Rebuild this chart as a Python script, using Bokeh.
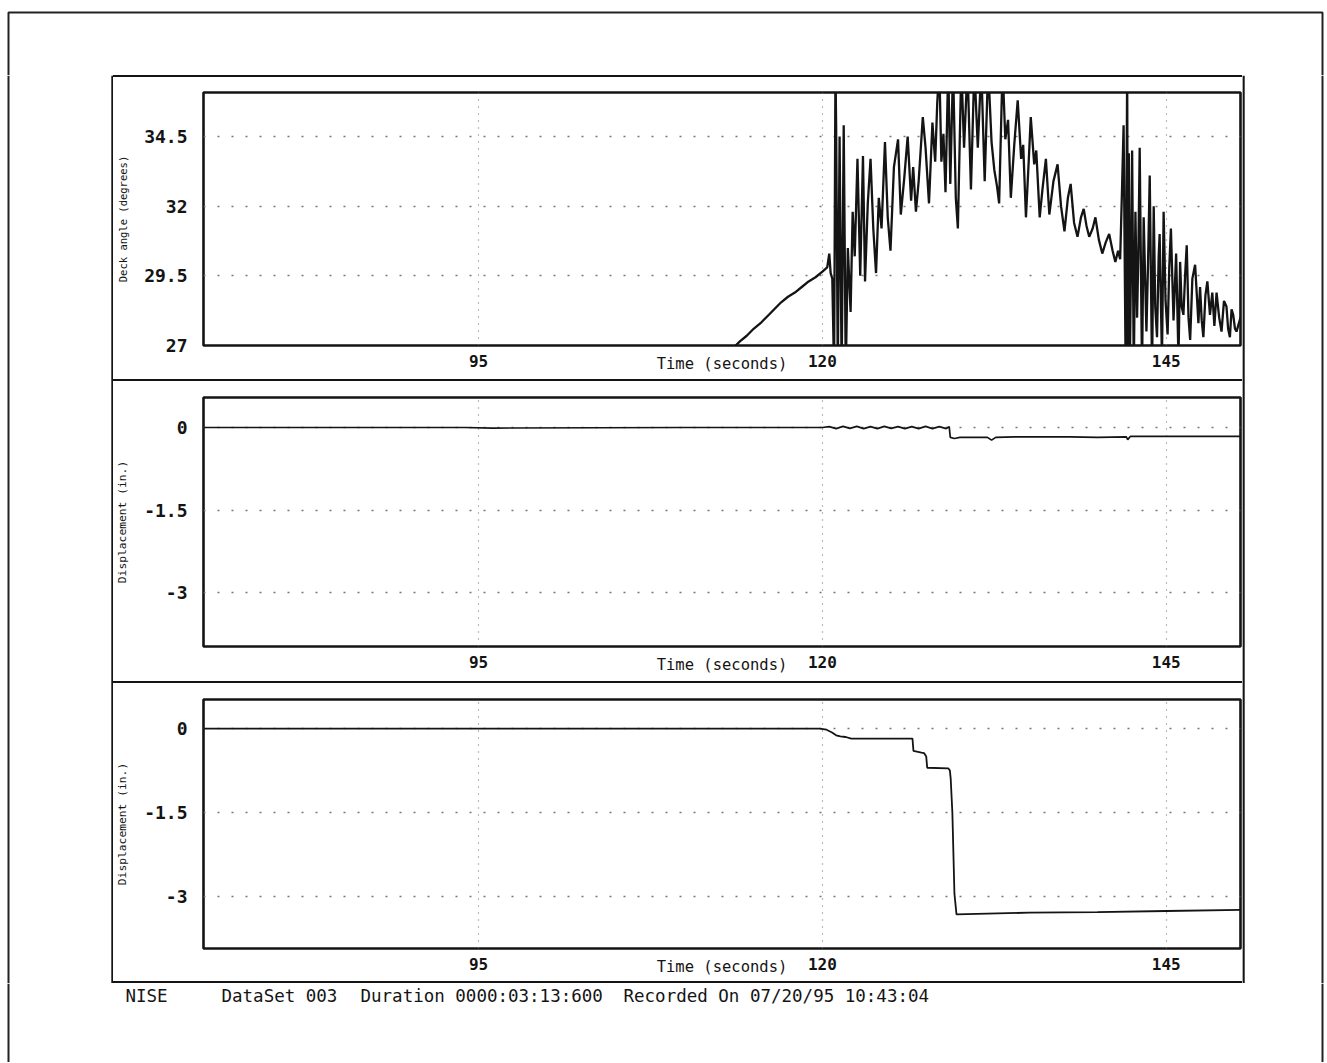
from bokeh.plotting import figure
from bokeh.models import Range1d, FixedTicker, Label, BoxAnnotation, Span, Div
from bokeh.layouts import column, row
from bokeh.embed import file_html
from bokeh.resources import INLINE

# ---------------- data ----------------
x_ticks = [95, 120, 145]
x_tick_labels = ["95", "120", "145"]
deck_ticks = [27, 29.5, 32, 34.5]
deck_tick_labels = ["27", "29.5", "32", "34.5"]
disp_ticks = [-3, -1.5, 0]
disp_tick_labels = ["-3", "-1.5", "0"]

deck_time = [
    113.5, 114.0, 114.5, 115.0, 115.5, 116.0, 116.5, 117.0, 117.5, 118.0, 118.5, 119.0, 119.5, 120.0,
    120.35, 120.5, 120.6, 120.72, 120.85, 120.95, 121.0, 121.12, 121.25, 121.4, 121.55, 121.7, 121.85,
    122.05, 122.2, 122.35, 122.55, 122.75, 122.95, 123.1, 123.3, 123.5, 123.7, 123.9, 124.1, 124.3,
    124.55, 124.75, 124.95, 125.2, 125.5, 125.7, 125.95, 126.2, 126.45, 126.6, 126.8, 127.0, 127.3,
    127.5, 127.75, 128.0, 128.2, 128.35, 128.5, 128.65, 128.8, 128.95, 129.15, 129.3, 129.5, 129.7,
    129.85, 130.1, 130.3, 130.55, 130.8, 131.05, 131.3, 131.55, 131.8, 132.05, 132.3, 132.5, 132.7,
    132.85, 133.1, 133.3, 133.5, 133.7, 133.95, 134.2, 134.45, 134.6, 134.8, 135.0, 135.15, 135.4,
    135.55, 135.8, 136.0, 136.25, 136.5, 136.8, 137.1, 137.35, 137.6, 137.85, 138.05, 138.3, 138.55,
    138.8, 139.0, 139.2, 139.4, 139.65, 139.85, 140.1, 140.35, 140.6, 140.85, 141.1, 141.3, 141.5,
    141.65, 141.78, 141.9, 142.05, 142.16, 142.22, 142.28, 142.35, 142.45, 142.52, 142.64, 142.76,
    142.88, 142.97, 143.07, 143.24, 143.36, 143.56, 143.68, 143.8, 143.97, 144.09, 144.2, 144.33,
    144.45, 144.52, 144.69, 144.81, 144.95, 145.1, 145.22, 145.34, 145.53, 145.72, 145.89, 146.01,
    146.12, 146.25, 146.38, 146.49, 146.62, 146.74, 146.9, 147.1, 147.34, 147.46, 147.58, 147.7,
    147.85, 147.99, 148.18, 148.35, 148.5, 148.66, 148.85, 149.02, 149.2, 149.38, 149.5, 149.63,
    149.75, 149.87, 150.0, 150.11, 150.4,
]
deck_angle = [
    26.9, 27.15, 27.35, 27.6, 27.8, 28.05, 28.3, 28.55, 28.75, 28.9, 29.1, 29.3, 29.45, 29.65,
    29.8, 30.3, 29.6, 29.4, 26.0, 37.0, 34.8, 26.0, 34.5, 26.0, 34.9, 26.0, 30.5,
    28.2, 31.8, 30.2, 33.7, 29.5, 33.8, 29.3, 32.1, 33.7, 31.2, 29.6, 32.3, 31.2,
    34.3, 31.6, 30.4, 33.4, 34.4, 31.7, 33.0, 34.5, 32.2, 33.4, 31.8, 32.9, 35.2,
    34.1, 32.1, 35.0, 33.6, 35.7, 37.0, 33.6, 34.6, 32.5, 37.0, 32.8, 37.0, 32.3,
    31.2, 37.0, 34.1, 37.0, 32.6, 37.0, 34.1, 37.0, 32.9, 37.0, 34.3, 33.3, 32.7,
    32.1, 37.0, 34.4, 35.1, 32.3, 34.2, 35.8, 33.7, 34.2, 31.6, 33.6, 35.2, 33.5,
    34.0, 31.6, 32.6, 33.7, 31.7, 32.9, 33.5, 32.0, 31.1, 32.3, 32.8, 31.4, 30.9,
    31.6, 31.9, 31.3, 30.9, 31.2, 31.6, 30.8, 30.3, 30.7, 31.0, 30.4, 30.0, 30.4,
    30.1, 32.5, 34.9, 26.0, 37.0, 26.0, 33.9, 26.0, 30.5, 34.0, 26.0, 31.8,
    28.0, 30.2, 34.1, 26.0, 31.6, 27.5, 30.0, 33.1, 26.0, 32.0, 28.4, 27.3,
    30.2, 31.0, 26.5, 31.8, 28.6, 27.4, 29.8, 31.2, 27.9, 30.3, 26.5, 30.0,
    28.4, 28.1, 29.6, 30.6, 28.0, 27.2, 29.4, 29.9, 27.8, 29.1, 27.9, 27.3,
    28.8, 29.3, 28.1, 28.9, 27.7, 28.9, 28.0, 27.5, 28.6, 28.4, 27.6, 27.3,
    28.3, 28.1, 27.6, 27.5, 28.0,
]

disp1_time = [75.0, 94.0, 96.0, 110.0, 120.0, 120.5, 121.0, 121.5, 122.0, 122.5, 123.0, 123.5,
              124.0, 124.5, 125.0, 125.5, 126.0, 126.5, 127.0, 127.5, 128.0, 128.5, 129.0, 129.22,
              129.3, 129.6, 130.0, 131.0, 132.0, 132.3, 132.6, 134.0, 136.0, 138.0, 140.0, 142.1,
              142.2, 142.4, 144.0, 146.0, 148.0, 150.4]
disp1 = [0.0, 0.0, -0.01, 0.0, 0.0, 0.015, -0.02, 0.02, -0.015, 0.02, -0.02, 0.015,
         -0.02, 0.02, -0.015, 0.015, -0.02, 0.015, -0.02, 0.02, -0.02, 0.015, -0.02, 0.015,
         -0.18, -0.2, -0.18, -0.18, -0.18, -0.23, -0.18, -0.17, -0.17, -0.17, -0.18, -0.17,
         -0.22, -0.16, -0.16, -0.16, -0.16, -0.16]

disp2_time = [75.0, 119.8, 120.3, 120.7, 121.0, 121.3, 121.7, 122.1, 126.55, 126.62, 127.2, 127.4,
              127.55, 127.62, 129.15, 129.27, 129.33, 129.45, 129.6, 129.75, 135.0, 140.0, 145.0, 150.4]
disp2 = [0.0, 0.0, -0.02, -0.07, -0.12, -0.14, -0.15, -0.18, -0.18, -0.4, -0.43, -0.44,
         -0.5, -0.7, -0.71, -0.75, -0.9, -1.5, -2.95, -3.32, -3.29, -3.28, -3.26, -3.24]

x_label = "Time (seconds)"
deck_label = "Deck angle (degrees)"
disp_label = "Displacement (in.)"
footer_texts = ["NISE", "DataSet 003", "Duration 0000:03:13:600", "Recorded On 07/20/95 10:43:04"]

# ---------------- layout ----------------
PAGE_W = 1326
BOX_L, BOX_R = 113, 1242
PANEL_W = BOX_R - BOX_L          # 1129
ML, MR = 85, 2
TOP_H, BOT_H = 75, 79
INK = "#141414"
PAGE_INK = "#222222"
MONO = "DejaVu Sans Mono"


def blank(width, height):
    p = figure(width=width, height=height, x_range=Range1d(0, width), y_range=Range1d(0, height),
               x_axis_type=None, y_axis_type=None, output_backend="svg", toolbar_location=None,
               title=None, min_border=0)
    p.min_border_left = p.min_border_right = p.min_border_top = p.min_border_bottom = 0
    p.background_fill_color = "white"
    p.border_fill_color = "white"
    p.outline_line_color = None
    p.xgrid.visible = False
    p.ygrid.visible = False
    return p


def separator():
    return Div(text="", width=PANEL_W, height=2,
               styles={"background-color": INK, "margin": "0", "padding": "0"})


def make_panel(height, mt, mb, y_rng, yticks, ylabels, ylab, ylab_size):
    p = figure(width=PANEL_W, height=height, x_range=Range1d(75.0, 150.4), y_range=Range1d(*y_rng),
               output_backend="svg", toolbar_location=None, title=None,
               min_border_left=ML, min_border_right=MR, min_border_top=mt, min_border_bottom=mb)
    p.background_fill_color = "white"
    p.border_fill_color = "white"
    p.outline_line_color = INK
    p.outline_line_width = 2.6

    p.xaxis.ticker = FixedTicker(ticks=x_ticks)
    p.xaxis.major_label_overrides = dict(zip(x_ticks, x_tick_labels))
    p.yaxis.ticker = FixedTicker(ticks=yticks)
    p.yaxis.major_label_overrides = dict(zip(yticks, ylabels))
    for ax in (p.xaxis, p.yaxis):
        ax.axis_line_color = None
        ax.major_tick_line_color = None
        ax.minor_tick_line_color = None
        ax.major_label_text_font = MONO
        ax.major_label_text_font_style = "bold"
        ax.major_label_text_color = INK
        ax.axis_label_text_font = MONO
        ax.axis_label_text_font_style = "normal"
        ax.axis_label_text_color = INK
    p.xaxis.major_label_text_font_size = "16px"
    p.xaxis.major_label_standoff = 3
    p.xaxis.axis_label = x_label
    p.xaxis.axis_label_text_font_size = "15.5px"
    p.xaxis.axis_label_standoff = -15
    p.yaxis.major_label_text_font_size = "18px"
    p.yaxis.major_label_standoff = 10
    p.yaxis.axis_label = ylab
    p.yaxis.axis_label_text_font_size = ylab_size
    p.yaxis.axis_label_standoff = 12

    p.xgrid.grid_line_color = "#777777"
    p.xgrid.grid_line_dash = "1 6"
    p.xgrid.grid_line_width = 1.2
    p.ygrid.grid_line_color = "#777777"
    p.ygrid.grid_line_dash = "2 12"
    p.ygrid.grid_line_width = 1.5
    return p


p1 = make_panel(302, 15, 34, (27.0, 36.08), deck_ticks, deck_tick_labels, deck_label, "10.5px")
p1.line(deck_time, deck_angle, line_color=INK, line_width=2.3)

p2 = make_panel(300, 16, 35, (-3.98, 0.545), disp_ticks, disp_tick_labels, disp_label, "11.3px")
p2.line(disp1_time, disp1, line_color=INK, line_width=1.7)

p3 = make_panel(298, 16, 33, (-3.93, 0.52), disp_ticks, disp_tick_labels, disp_label, "11.3px")
p3.line(disp2_time, disp2, line_color=INK, line_width=1.8)

panels = column(separator(), p1, separator(), p2, separator(), p3, separator(), spacing=0)
MID_H = 2 + 302 + 2 + 300 + 2 + 298 + 2

# top strip: page border top and sides
top = blank(PAGE_W, TOP_H)
top.add_layout(BoxAnnotation(left=8, right=1322, top=TOP_H - 12, bottom=-500, fill_alpha=0,
                             line_color=PAGE_INK, line_alpha=1.0, line_width=2))

# left strip: page left border and panel box left side
left = blank(BOX_L, MID_H)
left.add_layout(Span(location=8, dimension="height", line_color=PAGE_INK, line_width=2))
left.add_layout(Span(location=BOX_L - 1, dimension="height", line_color=INK, line_width=2.4))

# right strip: panel box right side and page right border
RIGHT_W = PAGE_W - BOX_R
right = blank(RIGHT_W, MID_H)
right.add_layout(Span(location=1, dimension="height", line_color=INK, line_width=2.4))
right.add_layout(Span(location=1322 - BOX_R, dimension="height", line_color=PAGE_INK, line_width=2))

# bottom strip: page sides and footer text
bottom = blank(PAGE_W, BOT_H)
bottom.add_layout(Span(location=8, dimension="height", line_color=PAGE_INK, line_width=2))
bottom.add_layout(Span(location=1322, dimension="height", line_color=PAGE_INK, line_width=2))
footer_x = [125, 221, 360, 623]
for fx, ft in zip(footer_x, footer_texts):
    bottom.add_layout(Label(x=fx, y=BOT_H - 12, text=ft, text_align="left", text_baseline="middle",
                            text_font=MONO, text_font_size="17.5px", text_color=INK))

layout = column(top, row(left, panels, right, spacing=0), bottom, spacing=0)
open("out.html", "w").write(file_html(layout, INLINE))
